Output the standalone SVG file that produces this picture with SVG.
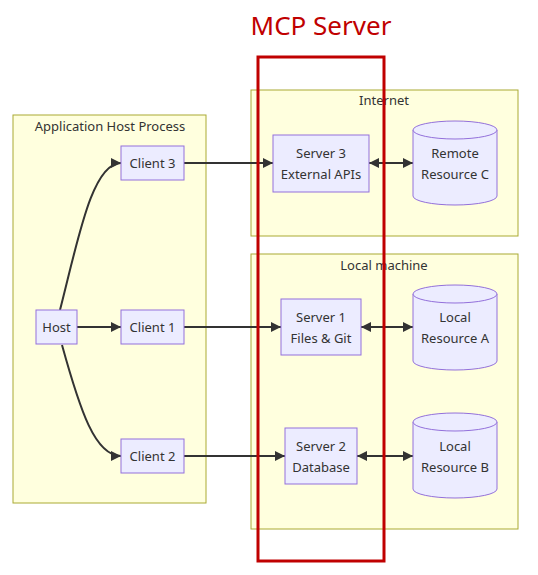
<svg xmlns="http://www.w3.org/2000/svg" width="538" height="575" viewBox="0 0 538 575">
<style>
.cluster{fill:#ffffde;stroke:#aaaa33;stroke-width:1}
.node{fill:#ECECFF;stroke:#9370DB;stroke-width:1}
.lbl{font-family:"Noto Sans","DejaVu Sans",sans-serif;font-size:13px;fill:#333;text-anchor:middle}
.edge{fill:none;stroke:#333;stroke-width:2}
</style>
<defs>
<marker id="arr" viewBox="0 0 10 10" refX="10" refY="5" markerWidth="10" markerHeight="10" markerUnits="userSpaceOnUse" orient="auto-start-reverse">
<path d="M0,0 L10,5 L0,10 z" fill="#333"/>
</marker>
</defs>
<rect width="538" height="575" fill="#ffffff"/>
<g id="cluster-app">
<rect class="cluster" x="13" y="115" width="193" height="388"/>
<text class="lbl" x="110" y="130.5">Application Host Process</text>
</g>
<g id="cluster-internet">
<rect class="cluster" x="251" y="90" width="267" height="146"/>
<text class="lbl" x="384" y="104.5">Internet</text>
</g>
<g id="cluster-local">
<rect class="cluster" x="251" y="254" width="267" height="275"/>
<text class="lbl" x="384" y="269.5">Local machine</text>
</g>
<g id="connectors">
<path class="edge" d="M60,310 C78,240 92,163 121,163" marker-end="url(#arr)"/>
<path class="edge" d="M62,345 C80,410 95,456 121,456" marker-end="url(#arr)"/>
<path class="edge" d="M77,327 L121,327" marker-end="url(#arr)"/>
<path class="edge" d="M184,163 L273,163" marker-end="url(#arr)"/>
<path class="edge" d="M184,327 L281,327" marker-end="url(#arr)"/>
<path class="edge" d="M184,456 L285,456" marker-end="url(#arr)"/>
<path class="edge" d="M369,163 L413,163" marker-start="url(#arr)" marker-end="url(#arr)"/>
<path class="edge" d="M361,327 L413,327" marker-start="url(#arr)" marker-end="url(#arr)"/>
<path class="edge" d="M357,456 L413,456" marker-start="url(#arr)" marker-end="url(#arr)"/>
</g>
<g id="host">
<rect class="node" x="36" y="310" width="41" height="34"/>
<text class="lbl" x="56.5" y="331.5">Host</text>
</g>
<g id="client3">
<rect class="node" x="121" y="146" width="63" height="34"/>
<text class="lbl" x="152.5" y="167.5">Client 3</text>
</g>
<g id="client1">
<rect class="node" x="121" y="310" width="63" height="34"/>
<text class="lbl" x="152.5" y="331.5">Client 1</text>
</g>
<g id="client2">
<rect class="node" x="121" y="439" width="63" height="34"/>
<text class="lbl" x="152.5" y="460.5">Client 2</text>
</g>
<g id="server3">
<rect class="node" x="273" y="135" width="96" height="57"/>
<text class="lbl" x="321" y="157.5">Server 3</text>
<text class="lbl" x="321" y="178.5">External APIs</text>
</g>
<g id="server1">
<rect class="node" x="281" y="299" width="80" height="56"/>
<text class="lbl" x="321" y="321.5">Server 1</text>
<text class="lbl" x="321" y="342.5">Files &amp; Git</text>
</g>
<g id="server2">
<rect class="node" x="285" y="428" width="72" height="56"/>
<text class="lbl" x="321" y="450.5">Server 2</text>
<text class="lbl" x="321" y="471.5">Database</text>
</g>
<g id="resourceC">
<path class="node" d="M413,130 A42,9 0 0 1 497,130 L497,196 A42,9 0 0 1 413,196 Z"/>
<path class="node" d="M413,130 A42,9 0 0 0 497,130" fill="none"/>
<text class="lbl" x="455" y="157.5">Remote</text>
<text class="lbl" x="455" y="178.5">Resource C</text>
</g>
<g id="resourceA">
<path class="node" d="M413,294 A42,9 0 0 1 497,294 L497,361 A42,9 0 0 1 413,361 Z"/>
<path class="node" d="M413,294 A42,9 0 0 0 497,294" fill="none"/>
<text class="lbl" x="455" y="321.5">Local</text>
<text class="lbl" x="455" y="342.5">Resource A</text>
</g>
<g id="resourceB">
<path class="node" d="M413,422 A42,9 0 0 1 497,422 L497,489 A42,9 0 0 1 413,489 Z"/>
<path class="node" d="M413,422 A42,9 0 0 0 497,422" fill="none"/>
<text class="lbl" x="455" y="450.5">Local</text>
<text class="lbl" x="455" y="471.5">Resource B</text>
</g>
<g id="mcp-server">
<rect x="258" y="57" width="126" height="504" fill="none" stroke="#c00000" stroke-width="3"/>
<text x="321" y="35" font-family="'Noto Sans','DejaVu Sans',sans-serif" font-size="26" fill="#c00000" text-anchor="middle">MCP Server</text>
</g>
</svg>
